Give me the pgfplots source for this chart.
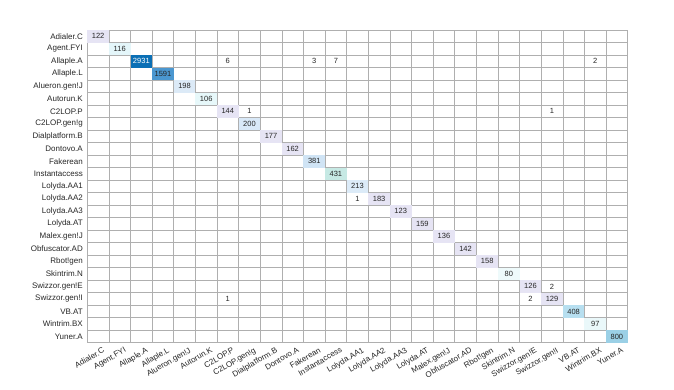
\documentclass[border=0pt]{standalone}
\usepackage{pgfplots}
\pgfplotsset{compat=1.18}
\usepackage{pgfplotstable}
\usepackage{fontspec}
\setmainfont{Liberation Sans}

\pgfdeclareplotmark{cell}{\pgfpathrectangle{\pgfpoint{-10.808bp}{-6.254bp}}{\pgfpoint{21.616bp}{12.508bp}}\pgfusepath{fill}}

% colored cells: column, row, colour class
\pgfplotstableread{
x y c
1 1 ca
2 2 cb
3 3 cc
4 4 cd
5 5 ce
6 6 cf
7 7 ca
8 8 cg
9 9 ca
10 10 ca
11 11 ch
12 12 ci
13 13 cj
14 14 ca
15 15 ca
16 16 ca
17 17 ca
18 18 ca
19 19 ca
20 20 ck
21 21 ca
22 22 ca
23 23 cl
24 24 cm
25 25 cn
}\cells

% counts in dark text
\pgfplotstableread{
x y v
1 1 122
2 2 116
4 4 1591
5 5 198
6 6 106
7 7 144
8 8 200
9 9 177
10 10 162
11 11 381
12 12 431
13 13 213
14 14 183
15 15 123
16 16 159
17 17 136
18 18 142
19 19 158
20 20 80
21 21 126
22 22 129
23 23 408
24 24 97
25 25 800
7 3 6
11 3 3
12 3 7
24 3 2
8 7 1
22 7 1
13 14 1
22 21 2
21 22 2
7 22 1
}\darknums

% counts in white text
\pgfplotstableread{
x y v
3 3 2931
}\whitenums

\definecolor{gridc}{RGB}{175,175,175}
\definecolor{txt}{RGB}{38,38,38}
\definecolor{ca}{RGB}{230,228,244}
\definecolor{cb}{RGB}{228,246,250}
\definecolor{cc}{RGB}{10,111,181}
\definecolor{cd}{RGB}{75,151,208}
\definecolor{ce}{RGB}{220,234,247}
\definecolor{cf}{RGB}{231,248,250}
\definecolor{cg}{RGB}{217,233,248}
\definecolor{ch}{RGB}{208,228,245}
\definecolor{ci}{RGB}{198,233,228}
\definecolor{cj}{RGB}{220,235,248}
\definecolor{ck}{RGB}{238,250,251}
\definecolor{cl}{RGB}{183,223,240}
\definecolor{cm}{RGB}{234,248,250}
\definecolor{cn}{RGB}{155,208,230}

\begin{document}
\begin{tikzpicture}
\path[use as bounding box] (-87.3bp,-47.3bp) rectangle (586.7bp,342.7bp);
\begin{axis}[
  scale only axis,
  width=540.4bp, height=312.7bp,
  xmin=0.5, xmax=25.5, ymin=0.5, ymax=25.5,
  y dir=reverse,
  axis on top,
  xtick={1,...,25}, ytick={1,...,25},
  xticklabels={Adialer.C,Agent.FYI,Allaple.A,Allaple.L,Alueron.gen!J,Autorun.K,C2LOP.P,C2LOP.gen!g,Dialplatform.B,Dontovo.A,Fakerean,Instantaccess,Lolyda.AA1,Lolyda.AA2,Lolyda.AA3,Lolyda.AT,Malex.gen!J,Obfuscator.AD,Rbot!gen,Skintrim.N,Swizzor.gen!E,Swizzor.gen!I,VB.AT,Wintrim.BX,Yuner.A},
  yticklabels={Adialer.C,Agent.FYI,Allaple.A,Allaple.L,Alueron.gen!J,Autorun.K,C2LOP.P,C2LOP.gen!g,Dialplatform.B,Dontovo.A,Fakerean,Instantaccess,Lolyda.AA1,Lolyda.AA2,Lolyda.AA3,Lolyda.AT,Malex.gen!J,Obfuscator.AD,Rbot!gen,Skintrim.N,Swizzor.gen!E,Swizzor.gen!I,VB.AT,Wintrim.BX,Yuner.A},
  minor xtick={1.5,2.5,...,24.5},
  minor ytick={1.5,2.5,...,24.5},
  xminorgrids, yminorgrids,
  minor grid style={color=gridc, line width=0.6bp},
  major tick length=0pt, minor tick length=0pt,
  axis line style={color=gridc, line width=0.6bp},
  tick label style={font=\fontsize{8bp}{9bp}\selectfont, text=txt},
  yticklabel style={inner sep=0pt, xshift=-4.3bp},
  xticklabel style={rotate=30, anchor=north east, inner sep=0pt, yshift=-5.5bp, xshift=1.5bp},
]
\addplot[scatter, only marks, mark=cell, point meta=explicit symbolic,
  scatter/classes={
    ca={draw=none,fill=ca}, cb={draw=none,fill=cb}, cc={draw=none,fill=cc},
    cd={draw=none,fill=cd}, ce={draw=none,fill=ce}, cf={draw=none,fill=cf},
    cg={draw=none,fill=cg}, ch={draw=none,fill=ch}, ci={draw=none,fill=ci},
    cj={draw=none,fill=cj}, ck={draw=none,fill=ck}, cl={draw=none,fill=cl},
    cm={draw=none,fill=cm}, cn={draw=none,fill=cn}}]
  table[x=x, y=y, meta=c]{\cells};
\addplot[only marks, mark=none, point meta=explicit symbolic,
  nodes near coords, nodes near coords align=center,
  every node near coord/.append style={font=\fontsize{7.5bp}{9bp}\selectfont, text=txt, inner sep=0pt}]
  table[x=x, y=y, meta=v]{\darknums};
\addplot[only marks, mark=none, point meta=explicit symbolic,
  nodes near coords, nodes near coords align=center,
  every node near coord/.append style={font=\fontsize{7.5bp}{9bp}\selectfont, text=white, inner sep=0pt}]
  table[x=x, y=y, meta=v]{\whitenums};
\end{axis}
\end{tikzpicture}
\end{document}
